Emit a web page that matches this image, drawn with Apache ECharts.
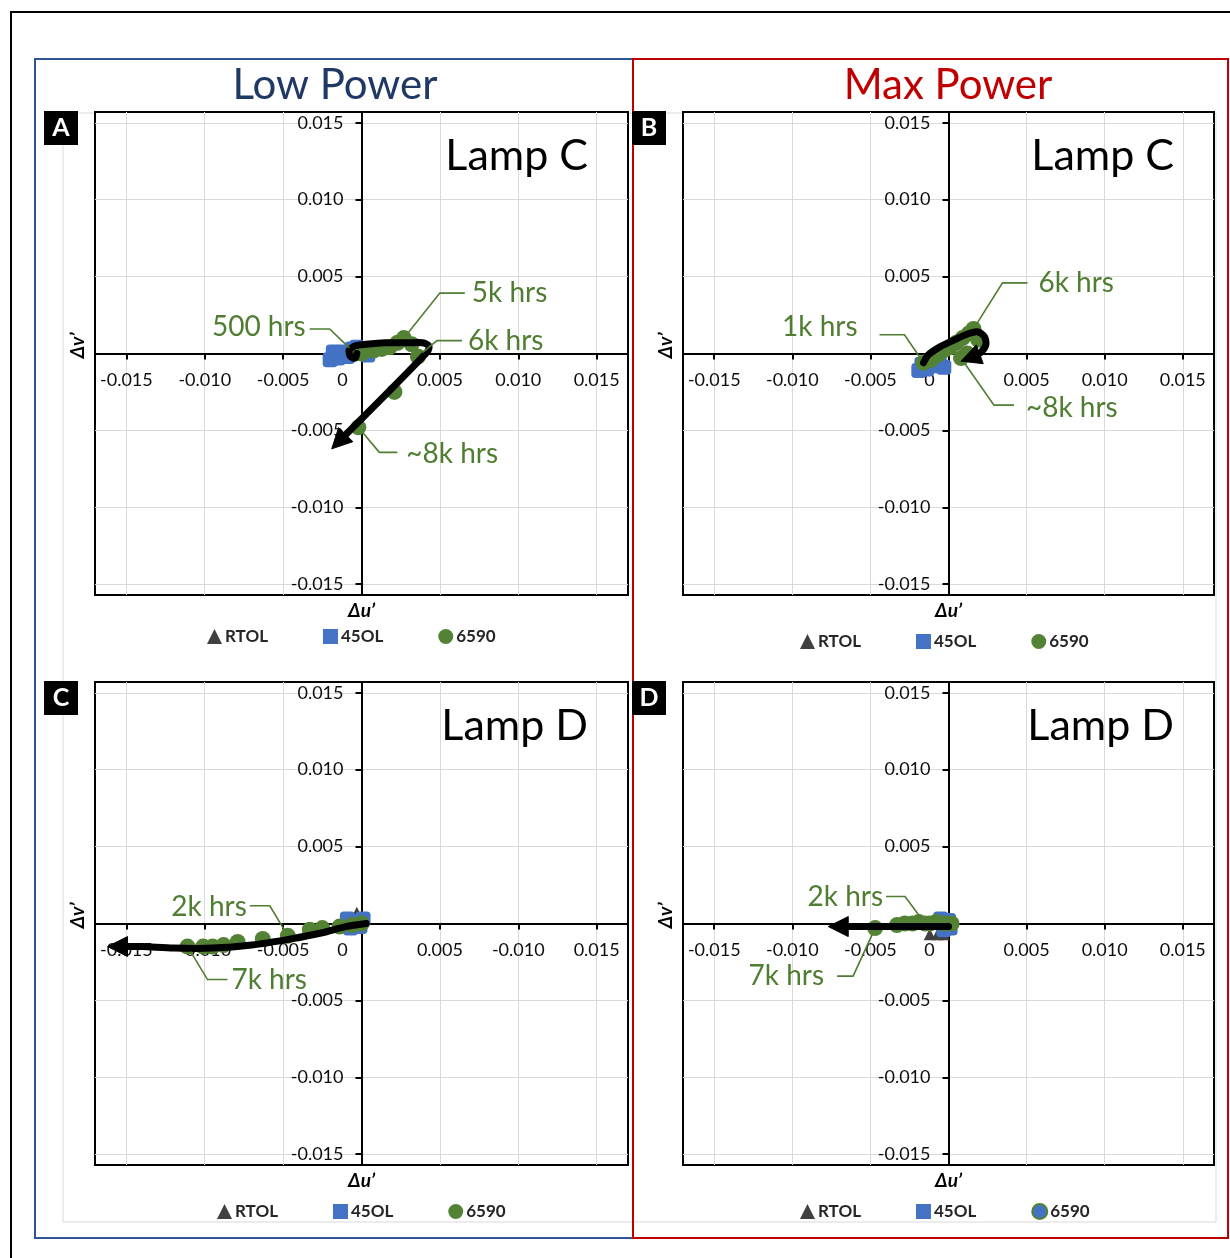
<!DOCTYPE html>
<html>
<head>
<meta charset="utf-8">
<script src="https://cdn.jsdelivr.net/npm/echarts@6/dist/echarts.min.js"></script>
<style>
  html, body { margin: 0; padding: 0; background: #fff; }
  #chart { width: 1230px; height: 1258px; }
</style>
</head>
<body>
<div id="chart"></div>
<script>
// ---- axis ticks ----
const tickValues = [-0.015, -0.010, -0.005, 0, 0.005, 0.010, 0.015];
const xTickLabels = ['-0.015', '-0.010', '-0.005', '0', '0.005', '0.010', '0.015'];
const xTickLabelsLampDLow = ['-0.015', '-0.010', '-0.005', '0', '0.005', '-0.010', '0.015'];
const yTickLabels = ['-0.015', '-0.010', '-0.005', '', '0.005', '0.010', '0.015'];

// ---- headings ----
const groupTitles = ['Low Power', 'Max Power'];
const panelLetters = ['A', 'B', 'C', 'D'];
const panelLamps = ['Lamp C', 'Lamp C', 'Lamp D', 'Lamp D'];
const seriesNames = ['RTOL', '45OL', '6590'];

// ---- Lamp C, low power : [Δu', Δv'] ----
const lampCLowRTOL = [[-0.0012, -0.0002], [-0.0008, 0.0000]];
const lampCLow45OL = [[-0.0020, -0.0004], [-0.0018, 0.0001], [-0.0015, -0.0003], [-0.0012, 0.0001],
                      [-0.0009, -0.0002], [-0.0006, 0.0003], [-0.0003, 0.0004], [0.0001, 0.0002], [0.0004, -0.0001]];
const lampCLow6590 = [[0.0000, 0.0000], [-0.0005, 0.0001], [0.0003, 0.0002], [0.0008, 0.0002],
                      [0.0013, 0.0003], [0.0018, 0.0004], [0.0023, 0.0007], [0.0027, 0.0010],
                      [0.0032, 0.0006], [0.0036, -0.0002], [0.0021, -0.0025], [-0.0002, -0.0048]];
const lampCLowTrend = [[-0.0003, 0.0000], [-0.0004, -0.0003], [-0.0007, -0.0002], [-0.0008, 0.0002],
                       [-0.0004, 0.0005], [0.0003, 0.0006], [0.0015, 0.0007], [0.0030, 0.0007],
                       [0.0039, 0.0007], [0.0043, 0.0005], [0.0042, 0.0001], [-0.0019, -0.0062]];
const lampCLowNotes = [['500 hrs', 1], ['5k hrs', 7], ['6k hrs', 9], ['~8k hrs', 11]];

// ---- Lamp C, max power ----
const lampCMaxRTOL = [[-0.0013, -0.0008], [-0.0008, -0.0006]];
const lampCMax45OL = [[-0.0019, -0.0011], [-0.0017, -0.0007], [-0.0014, -0.0010], [-0.0012, -0.0005],
                      [-0.0009, -0.0008], [-0.0006, -0.0006], [-0.0003, -0.0009]];
const lampCMax6590 = [[-0.0016, -0.0006], [-0.0011, -0.0004], [-0.0007, -0.0001], [-0.0003, 0.0002],
                      [0.0001, 0.0004], [0.0005, 0.0007], [0.0009, 0.0010], [0.0013, 0.0013],
                      [0.0016, 0.0016], [0.0019, 0.0009], [0.0012, 0.0000], [0.0008, -0.0003]];
const lampCMaxTrend = [[-0.0016, -0.0006], [-0.0013, -0.0001], [-0.0006, 0.0004], [0.0004, 0.0009],
                       [0.0013, 0.0013], [0.0019, 0.0014], [0.0023, 0.0011], [0.0024, 0.0006],
                       [0.0021, 0.0001], [0.0016, -0.0002], [0.0008, -0.0005]];
const lampCMaxNotes = [['1k hrs', 0], ['6k hrs', 8], ['~8k hrs', 11]];

// ---- Lamp D, low power ----
const lampDLowRTOL = [[-0.0003, 0.0007], [-0.0006, 0.0002]];
const lampDLow45OL = [[-0.0009, 0.0003], [-0.0007, -0.0003], [-0.0004, 0.0001], [-0.0001, -0.0002], [0.0001, 0.0003]];
const lampDLow6590 = [[0.0000, 0.0000], [-0.0006, -0.0001], [-0.0014, -0.0002], [-0.0025, -0.0003],
                      [-0.0033, -0.0004], [-0.0047, -0.0008], [-0.0063, -0.0010], [-0.0079, -0.0012],
                      [-0.0088, -0.0014], [-0.0095, -0.0015], [-0.0101, -0.0015], [-0.0111, -0.0015]];
const lampDLowTrend = [[0.0003, 0.0000], [-0.0010, -0.0002], [-0.0025, -0.0006], [-0.0045, -0.0010],
                       [-0.0070, -0.0014], [-0.0095, -0.0016], [-0.0120, -0.0016], [-0.0140, -0.0015],
                       [-0.0162, -0.0015]];
const lampDLowNotes = [['2k hrs', 5], ['7k hrs', 11]];

// ---- Lamp D, max power ----
const lampDMaxRTOL = [[-0.0012, -0.0007], [-0.0007, -0.0007], [-0.0003, -0.0007]];
const lampDMax45OL = [[-0.0005, 0.0003], [-0.0003, -0.0004], [0.0000, 0.0002], [0.0001, -0.0003]];
const lampDMax6590 = [[0.0002, 0.0000], [-0.0003, 0.0000], [-0.0008, 0.0001], [-0.0012, 0.0000],
                      [-0.0015, 0.0000], [-0.0019, 0.0001], [-0.0023, 0.0000], [-0.0028, 0.0000],
                      [-0.0033, -0.0001], [-0.0047, -0.0003]];
const lampDMaxTrend = [[0.0000, -0.0002], [-0.0077, -0.0002]];
const lampDMaxNotes = [['2k hrs', 4], ['7k hrs', 9]];

// ---------------------------------------------------------------
const FONT = 'Lato, "Open Sans", "Liberation Sans", sans-serif';
const GREEN = '#548235';
const NOTE_GREEN = '#4f7d31';
const BLUE = '#4472C4';
const GREY = '#404040';

const panels = [
  { rtol: lampCLowRTOL, ol: lampCLow45OL, pts: lampCLow6590, trend: lampCLowTrend, notes: lampCLowNotes, xLabels: xTickLabels },
  { rtol: lampCMaxRTOL, ol: lampCMax45OL, pts: lampCMax6590, trend: lampCMaxTrend, notes: lampCMaxNotes, xLabels: xTickLabels },
  { rtol: lampDLowRTOL, ol: lampDLow45OL, pts: lampDLow6590, trend: lampDLowTrend, notes: lampDLowNotes, xLabels: xTickLabelsLampDLow },
  { rtol: lampDMaxRTOL, ol: lampDMax45OL, pts: lampDMax6590, trend: lampDMaxTrend, notes: lampDMaxNotes, xLabels: xTickLabels }
];

// plot boxes
const boxes = [
  { left: 95, top: 112, width: 533, height: 483 },
  { left: 683, top: 112, width: 531, height: 483 },
  { left: 95, top: 682, width: 533, height: 483 },
  { left: 683, top: 682, width: 531, height: 483 }
];

// callout leader geometry, pixels: [dx, dy to elbow, horizontal run, text dy, text gap]
const noteLayout = [
  [[-24, -23, -20, -2, 4], [36, -45, 25, 0, 7], [19, -16, 25, 0, 6], [21, 25, 18, 2, 9]],
  [[-19, -28, -25, -8, 22], [29, -46, 25, 0, 11], [33, 47, 20, 3, 12]],
  [[-18, -30, -20, 1, 3], [20, 33, 20, 0, 4]],
  [[-20, -27, -19, 0, 3], [-22, 48, -16, 0, 13]]
];

const legendPos = [[202, 623], [795, 628], [212, 1198], [795, 1198]];

function findTick(v) {
  let best = 0;
  tickValues.forEach((t, i) => { if (Math.abs(t - v) < Math.abs(tickValues[best] - v)) best = i; });
  return best;
}

const grid = [], xAxis = [], yAxis = [], series = [], legend = [];

panels.forEach((p, i) => {
  const b = boxes[i];
  grid.push(Object.assign({ show: true, borderColor: '#000', borderWidth: 2, backgroundColor: '#fff', containLabel: false }, b));

  // both ranges are symmetric, so the zero lines sit at the middle of the box
  xAxis.push({
    gridIndex: i, type: 'value', min: -0.017, max: 0.017,
    position: 'bottom', offset: -b.height / 2,
    axisLine: { onZero: false, lineStyle: { color: '#000', width: 2 } },
    axisTick: { show: true, length: 6, lineStyle: { color: '#000', width: 2 }, customValues: tickValues },
    axisLabel: {
      customValues: tickValues, margin: 18, fontFamily: FONT, fontSize: 18, color: '#0d0d0d',
      formatter: v => {
        const s = p.xLabels[findTick(v)];
        return s === '0' ? '{z|0}' : s;
      },
      rich: { z: { fontFamily: FONT, fontSize: 18, color: '#0d0d0d', padding: [0, 38, 5, 0] } }
    },
    splitLine: { show: true, lineStyle: { color: '#d9d9d9', width: 1 } }
  });

  yAxis.push({
    gridIndex: i, type: 'value', min: -0.0157, max: 0.0157,
    position: 'left', offset: -b.width / 2,
    axisLine: { onZero: false, lineStyle: { color: '#000', width: 2 } },
    axisTick: { show: true, length: 6, lineStyle: { color: '#000', width: 2 }, customValues: tickValues },
    axisLabel: {
      customValues: tickValues, margin: 18, fontFamily: FONT, fontSize: 18, color: '#0d0d0d',
      formatter: v => yTickLabels[findTick(v)]
    },
    splitLine: { show: true, lineStyle: { color: '#d9d9d9', width: 1 } }
  });

  const common = { xAxisIndex: i, yAxisIndex: i, type: 'scatter', silent: true };
  series.push(Object.assign({ name: 'RTOL', data: p.rtol, symbol: 'triangle', symbolSize: 12, itemStyle: { color: GREY, opacity: 1 }, z: 2 }, common));
  series.push(Object.assign({ name: '45OL', data: p.ol, symbol: 'roundRect', symbolSize: 15, itemStyle: { color: BLUE, opacity: 1 }, z: 3 }, common));
  series.push(Object.assign({ name: '6590', data: p.pts, symbol: 'circle', symbolSize: 16, itemStyle: { color: GREEN, opacity: 1 }, z: 4 }, common));

  // trend arrow
  const trend = p.trend;
  series.push({
    type: 'custom', coordinateSystem: 'cartesian2d', xAxisIndex: i, yAxisIndex: i,
    clip: false, silent: true, z: 6,
    data: [trend[0]],
    renderItem: (params, api) => {
      const pts = trend.map(q => api.coord(q));
      const tip = pts[pts.length - 1], prev = pts[pts.length - 2];
      let dx = tip[0] - prev[0], dy = tip[1] - prev[1];
      const len = Math.hypot(dx, dy) || 1;
      dx /= len; dy /= len;
      const L = 20, W = 10;
      const bx = tip[0] - dx * L, by = tip[1] - dy * L;
      const body = pts.slice(0, -1).concat([[bx + dx * 3, by + dy * 3]]);
      return {
        type: 'group',
        children: [
          { type: 'polyline', shape: { points: body, smooth: 0.25 },
            style: { stroke: '#000', lineWidth: 7, fill: null, lineJoin: 'round', lineCap: 'round' } },
          { type: 'polygon', shape: { points: [tip, [bx - dy * W, by + dx * W], [bx + dy * W, by - dx * W]] },
            style: { fill: '#000', stroke: '#000', lineWidth: 1, lineJoin: 'round' } }
        ]
      };
    }
  });

  // callouts
  const notes = p.notes;
  series.push({
    type: 'custom', coordinateSystem: 'cartesian2d', xAxisIndex: i, yAxisIndex: i,
    clip: false, silent: true, z: 7,
    data: notes.map(n => p.pts[n[1]].slice()),
    renderItem: (params, api) => {
      const c = api.coord([api.value(0), api.value(1)]);
      const lay = noteLayout[i][params.dataIndex];
      const knee = [c[0] + lay[0], c[1] + lay[1]];
      const d = Math.hypot(lay[0], lay[1]) || 1;
      const start = [c[0] + lay[0] / d * 6, c[1] + lay[1] / d * 6];
      const end = [knee[0] + lay[2], knee[1]];
      const toRight = lay[2] > 0;
      return {
        type: 'group',
        children: [
          { type: 'polyline', shape: { points: [start, knee, end] },
            style: { stroke: NOTE_GREEN, lineWidth: 1.6, fill: null } },
          { type: 'text', x: end[0] + (toRight ? lay[4] : -lay[4]), y: end[1] + lay[3],
            style: { text: notes[params.dataIndex][0], fill: NOTE_GREEN, fontFamily: FONT, fontSize: 28,
                     align: toRight ? 'left' : 'right', verticalAlign: 'middle' } }
        ]
      };
    }
  });

  const legendData = [
    { name: 'RTOL', icon: 'triangle' },
    { name: '45OL', icon: 'rect' },
    i === 3 ? { name: '6590', icon: 'circle', itemStyle: { color: BLUE, borderColor: GREEN, borderWidth: 2 } }
            : { name: '6590', icon: 'circle' }
  ];
  legend.push({
    left: legendPos[i][0], top: legendPos[i][1], orient: 'horizontal',
    itemWidth: 15, itemHeight: 15, itemGap: 55, selectedMode: false,
    textStyle: { fontFamily: FONT, fontSize: 17, fontWeight: 'bold', color: '#262626', padding: [0, 0, 0, -2] },
    data: legendData
  });
});

// ---- decorations: frames, headings, panel tags, axis names ----
const graphic = [];
graphic.push({ type: 'line', shape: { x1: 10, y1: 12, x2: 1230, y2: 12 }, style: { stroke: '#000', lineWidth: 2 } });
graphic.push({ type: 'line', shape: { x1: 11, y1: 12, x2: 11, y2: 1258 }, style: { stroke: '#000', lineWidth: 2 } });
graphic.push({ type: 'rect', shape: { x: 63, y: 113, width: 1153, height: 1109 }, style: { fill: null, stroke: '#d9d9d9', lineWidth: 1 }, z: -10 });
graphic.push({ type: 'rect', shape: { x: 35, y: 59, width: 598, height: 1179 }, style: { fill: null, stroke: '#2F5597', lineWidth: 2 } });
graphic.push({ type: 'rect', shape: { x: 633, y: 59, width: 595, height: 1179 }, style: { fill: null, stroke: '#C00000', lineWidth: 2 } });
graphic.push({ type: 'text', x: 335, y: 85, style: { text: groupTitles[0], fill: '#203864', fontFamily: FONT, fontSize: 42, align: 'center', verticalAlign: 'middle' } });
graphic.push({ type: 'text', x: 948, y: 85, style: { text: groupTitles[1], fill: '#C00000', fontFamily: FONT, fontSize: 42, align: 'center', verticalAlign: 'middle' } });

boxes.forEach((b, i) => {
  const zeroX = b.left + b.width / 2;
  const zeroY = b.top + b.height / 2;
  const tagX = b.left - 51;
  graphic.push({ type: 'rect', shape: { x: tagX, y: b.top - 1, width: 34, height: 34 }, style: { fill: '#000' } });
  graphic.push({ type: 'text', x: tagX + 17, y: b.top + 16, style: { text: panelLetters[i], fill: '#fff', fontFamily: FONT, fontSize: 25, fontWeight: 'bold', align: 'center', verticalAlign: 'middle' } });
  graphic.push({ type: 'text', x: b.left + b.width - 40, y: b.top + 44, style: { text: panelLamps[i], fill: '#000', fontFamily: FONT, fontSize: 43, align: 'right', verticalAlign: 'middle' }, z: 1 });
  graphic.push({ type: 'text', x: zeroX, y: b.top + b.height + 16, style: { text: 'Δu’', fill: '#000', fontFamily: FONT, fontSize: 19, fontWeight: 'bold', fontStyle: 'italic', align: 'center', verticalAlign: 'middle' } });
  graphic.push({ type: 'text', x: b.left - 17, y: zeroY - 8, rotation: Math.PI / 2, style: { text: 'Δv’', fill: '#000', fontFamily: FONT, fontSize: 19, fontWeight: 'bold', fontStyle: 'italic', align: 'center', verticalAlign: 'middle' } });
});

const chart = echarts.init(document.getElementById('chart'), null, { renderer: 'canvas' });
chart.setOption({
  animation: false,
  backgroundColor: '#fff',
  grid, xAxis, yAxis, series, legend,
  graphic: { elements: graphic }
});
</script>
</body>
</html>
